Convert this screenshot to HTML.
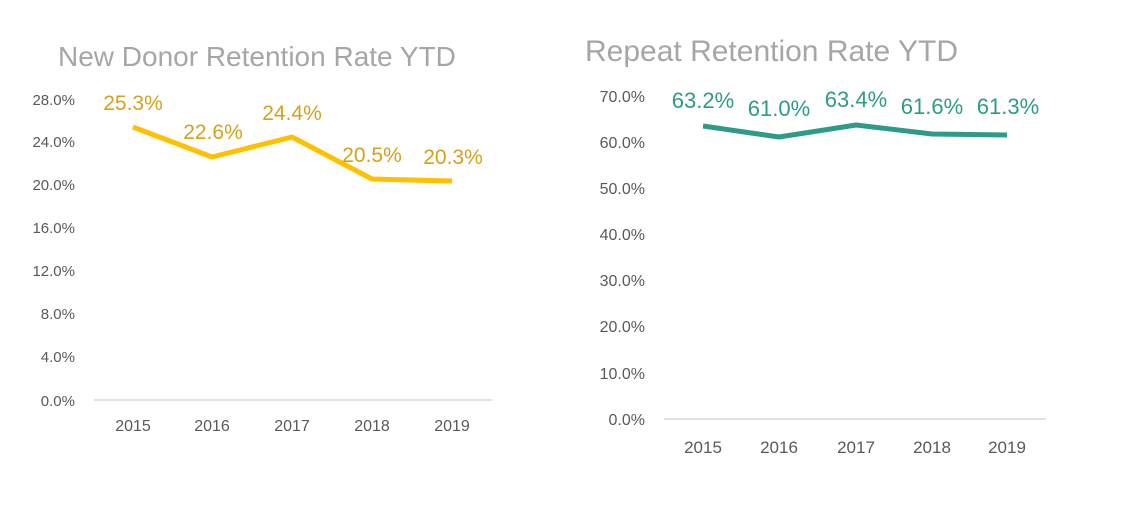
<!DOCTYPE html>
<html><head><meta charset="utf-8"><style>
html,body{margin:0;padding:0;background:#fff;}
svg{display:block;font-family:"Liberation Sans",sans-serif;}
</style></head><body>
<svg width="1135" height="518" viewBox="0 0 1135 518" xmlns="http://www.w3.org/2000/svg">
<rect width="1135" height="518" fill="#fff"/>
<!-- Left chart -->
<text x="58" y="66" font-size="28" fill="#a6a6a6">New Donor Retention Rate YTD</text>
<g font-size="15" fill="#595959" text-anchor="end">
<text x="75" y="105">28.0%</text>
<text x="75" y="147">24.0%</text>
<text x="75" y="190">20.0%</text>
<text x="75" y="233">16.0%</text>
<text x="75" y="276">12.0%</text>
<text x="75" y="319">8.0%</text>
<text x="75" y="362">4.0%</text>
<text x="75" y="406">0.0%</text>
</g>
<line x1="94" y1="400" x2="492" y2="400" stroke="#d9d9d9" stroke-width="1.5"/>
<g font-size="16" fill="#595959" text-anchor="middle">
<text x="133" y="431">2015</text><text x="212" y="431">2016</text><text x="292" y="431">2017</text><text x="372" y="431">2018</text><text x="452" y="431">2019</text>
</g>
<polyline points="133,127 212,157 292,137 372,179 452,181" fill="none" stroke="#FFC000" stroke-width="5" stroke-linejoin="round"/>
<g font-size="21" fill="#D4A21A" text-anchor="middle">
<text x="133" y="110">25.3%</text><text x="213" y="139">22.6%</text><text x="292" y="120">24.4%</text><text x="372" y="162">20.5%</text><text x="453" y="164">20.3%</text>
</g>
<!-- Right chart -->
<text x="585" y="61" font-size="30" fill="#a6a6a6">Repeat Retention Rate YTD</text>
<g font-size="16" fill="#595959" text-anchor="end">
<text x="645" y="102">70.0%</text>
<text x="645" y="148">60.0%</text>
<text x="645" y="194">50.0%</text>
<text x="645" y="240">40.0%</text>
<text x="645" y="286">30.0%</text>
<text x="645" y="332">20.0%</text>
<text x="645" y="379">10.0%</text>
<text x="645" y="425">0.0%</text>
</g>
<line x1="664" y1="419" x2="1046" y2="419" stroke="#d9d9d9" stroke-width="1.5"/>
<g font-size="17" fill="#595959" text-anchor="middle">
<text x="703" y="453">2015</text><text x="779" y="453">2016</text><text x="856" y="453">2017</text><text x="932" y="453">2018</text><text x="1007" y="453">2019</text>
</g>
<polyline points="703,126 779,137 856,125 932,134 1007,135" fill="none" stroke="#2E9A88" stroke-width="5" stroke-linejoin="round"/>
<g font-size="22" fill="#2E9A88" text-anchor="middle">
<text x="703" y="108">63.2%</text><text x="779" y="116">61.0%</text><text x="856" y="107">63.4%</text><text x="932" y="114">61.6%</text><text x="1008" y="114">61.3%</text>
</g>
</svg>
</body></html>
